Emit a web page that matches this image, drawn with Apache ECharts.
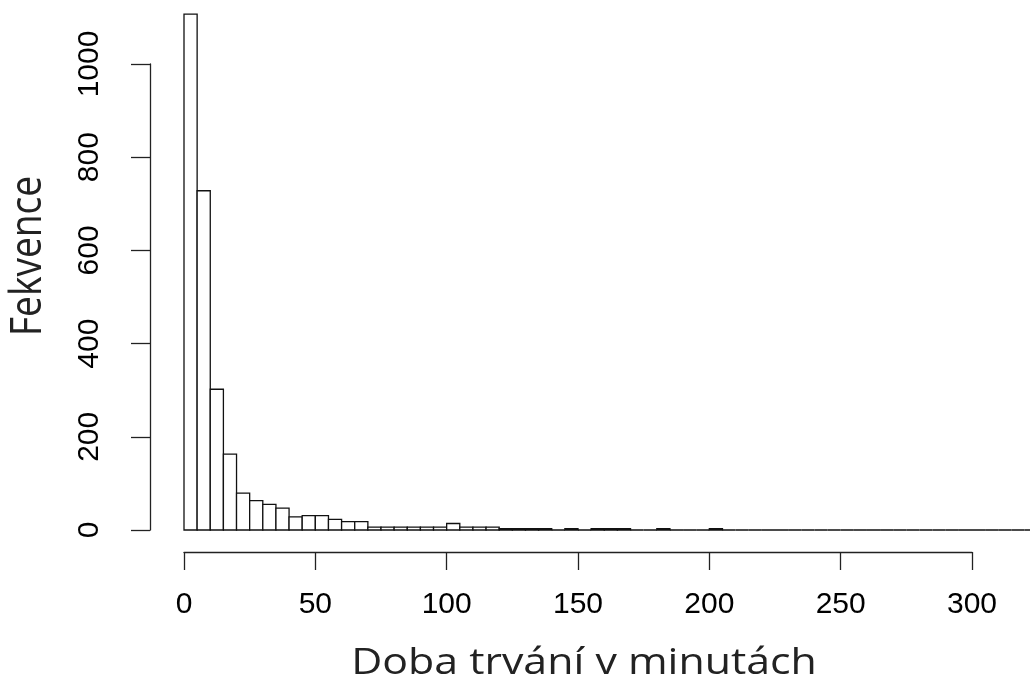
<!DOCTYPE html>
<html>
<head>
<meta charset="utf-8">
<title>Doba trvání</title>
<script src="https://cdn.jsdelivr.net/npm/echarts@6/dist/echarts.min.js"></script>
<style>
  html, body { margin: 0; padding: 0; background: #fff; }
  #chart { width: 1030px; height: 686px; }
</style>
</head>
<body>
<div id="chart"></div>
<script>
// histogram, bins of 5 minutes starting at 0
var binWidth = 5;
var counts = [
  1107, 728, 302, 163, 79, 63, 55, 47, 28, 31,
  31, 23, 18, 18, 6, 6, 6, 6, 6, 6,
  14, 6, 6, 6, 3, 3, 3, 3, 0, 3,
  0, 3, 3, 3, 0, 0, 3, 0, 0, 0,
  3, 0, 0, 0, 0, 0, 0, 0, 0, 0,
  0, 0, 0, 0, 0, 0, 0, 0, 0, 0,
  0, 0, 0, 0, 0
];
var xTicks = [0, 50, 100, 150, 200, 250, 300];
var yTicks = [0, 200, 400, 600, 800, 1000];
var xTitle = "Doba trvání v minutách";
var yTitle = "Fekvence";

var bins = [];
for (var i = 0; i < counts.length; i++) {
  bins.push([i * binWidth, (i + 1) * binWidth, counts[i]]);
}

var tickFont = "'Liberation Sans', Arial, sans-serif";
var titleFont = "'Open Sans', 'Noto Sans', sans-serif";

var chart = echarts.init(document.getElementById("chart"));
chart.setOption({
  animation: false,
  backgroundColor: "#fff",
  grid: { left: 184, right: 58, top: 64, bottom: 156 },
  xAxis: {
    type: "value",
    min: xTicks[0],
    max: xTicks[xTicks.length - 1],
    interval: 50,
    offset: 22,
    splitLine: { show: false },
    axisLine: { show: true, onZero: false, lineStyle: { color: "#222", width: 1.3 } },
    axisTick: { show: true, length: 18, lineStyle: { color: "#222", width: 1.3 } },
    axisLabel: { margin: 38, color: "#000", fontSize: 30, fontFamily: tickFont, formatter: function (v) { return String(v); } }
  },
  yAxis: {
    type: "value",
    min: yTicks[0],
    max: yTicks[yTicks.length - 1],
    interval: 200,
    offset: 34,
    splitLine: { show: false },
    axisLine: { show: true, onZero: false, lineStyle: { color: "#222", width: 1.3 } },
    axisTick: { show: true, length: 19, lineStyle: { color: "#222", width: 1.3 } },
    axisLabel: { rotate: 90, margin: 45, color: "#000", fontSize: 30, fontFamily: tickFont, formatter: function (v) { return String(v); } }
  },
  graphic: [
    {
      type: "text",
      x: 584, y: 664,
      scaleX: 1.19,
      style: { text: xTitle, fill: "#222", font: "36px " + titleFont, textAlign: "center", textVerticalAlign: "middle" }
    },
    {
      type: "text",
      x: 29, y: 256,
      rotation: Math.PI / 2,
      scaleX: 1.03,
      scaleY: 1.2,
      style: { text: yTitle, fill: "#222", font: "36px " + titleFont, textAlign: "center", textVerticalAlign: "middle" }
    }
  ],
  series: [{
    type: "custom",
    clip: false,
    data: bins,
    renderItem: function (params, api) {
      var p0 = api.coord([api.value(0), 0]);
      var p1 = api.coord([api.value(1), api.value(2)]);
      return {
        type: "rect",
        shape: { x: p0[0], y: p1[1], width: p1[0] - p0[0], height: p0[1] - p1[1] },
        style: { fill: "#fff", stroke: "#111", lineWidth: 1.3 }
      };
    }
  }]
});
</script>
</body>
</html>
